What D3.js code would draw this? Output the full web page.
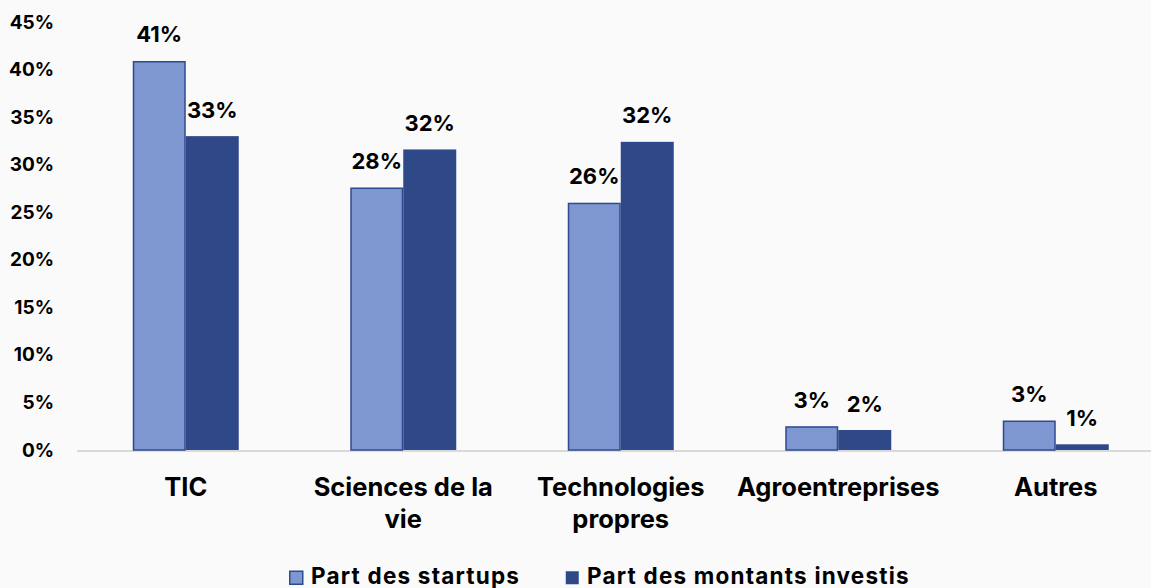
<!DOCTYPE html>
<html><head><meta charset="utf-8">
<script src="https://cdn.jsdelivr.net/npm/d3@7"></script>
<style>
html,body{margin:0;padding:0;background:#fafafa;}
svg{display:block;font-family:Inter,"Noto Sans",sans-serif;font-weight:700;}
</style></head><body>
<svg id="c" width="1151" height="588"></svg>
<script>
const categories = ["TIC", "Sciences de la vie", "Technologies propres", "Agroentreprises", "Autres"];
const seriesNames = ["Part des startups", "Part des montants investis"];
const startups = [0.409, 0.276, 0.260, 0.025, 0.031];
const montants = [0.330, 0.316, 0.324, 0.021, 0.006];
const yTicks = [0, 0.05, 0.10, 0.15, 0.20, 0.25, 0.30, 0.35, 0.40, 0.45];
const colors = ["#7f97d1", "#2f4887"];

const svg = d3.select("#c");
const x0 = d3.scaleBand().domain(categories).range([77, 1164.5]).paddingInner(0).paddingOuter(0);
const x1 = d3.scaleBand().domain([0,1]).range([x0.bandwidth()/2 - 53, x0.bandwidth()/2 + 53]);
const y = d3.scaleLinear().domain([0, 0.45]).range([450, 22]);

// baseline
svg.append("line").attr("x1", 77).attr("x2", 1151).attr("y1", y(0)+1).attr("y2", y(0)+1)
  .attr("stroke", "#d9d9d9").attr("stroke-width", 2);

// y axis
const yAxis = d3.axisLeft(y).tickValues(yTicks).tickFormat(d3.format(".0%")).tickSize(0).tickPadding(0);
const yg = svg.append("g").attr("transform", "translate(54,0)").call(yAxis);
yg.select(".domain").remove();
yg.selectAll("text").attr("font-family", "Inter, sans-serif").attr("font-weight", 700)
  .attr("font-size", 19).attr("fill", "#000");

const data = categories.map((c, i) => ({c, vals: [startups[i], montants[i]]}));
const g = svg.selectAll("g.cat").data(data).join("g").attr("class", "cat")
  .attr("transform", d => `translate(${x0(d.c)},0)`);

g.selectAll("rect").data(d => d.vals.map((v, k) => ({v, k}))).join("rect")
  .attr("x", d => x1(d.k) + (d.k === 0 ? 0.75 : 0))
  .attr("width", d => x1.bandwidth() - (d.k === 0 ? 1.5 : 0))
  .attr("y", d => y(d.v) + (d.k === 0 ? 0.75 : 0))
  .attr("height", d => y(0) - y(d.v) - (d.k === 0 ? 0.75 : 0))
  .attr("fill", d => colors[d.k])
  .attr("stroke", d => d.k === 0 ? "#2f4a8f" : "none")
  .attr("stroke-width", 1.5);

g.selectAll("text.lbl").data(d => d.vals.map((v, k) => ({v, k}))).join("text")
  .attr("class", "lbl")
  .attr("x", d => x1(d.k) + x1.bandwidth()/2)
  .attr("y", d => y(d.v) - 18.5)
  .attr("text-anchor", "middle")
  .attr("font-size", 22).attr("fill", "#000")
  .text(d => d3.format(".0%")(d.v));

// category labels with wrapping
const xg = svg.append("g");
categories.forEach(c => {
  const cx = x0(c) + x0.bandwidth()/2;
  const t = xg.append("text").attr("x", cx).attr("y", 495.5).attr("text-anchor", "middle")
    .attr("font-size", 25.5).attr("fill", "#000");
  const words = c.split(" ");
  let line = [];
  let tspan = t.append("tspan").attr("x", cx).attr("dy", 0);
  words.forEach(w => {
    line.push(w);
    tspan.text(line.join(" "));
    if (tspan.node().getComputedTextLength() > 200 && line.length > 1) {
      line.pop();
      tspan.text(line.join(" "));
      line = [w];
      tspan = t.append("tspan").attr("x", cx).attr("dy", 32.7).text(w);
    }
  });
});

// legend
const leg = svg.append("g");
const legX = [289, 565];
seriesNames.forEach((n, k) => {
  leg.append("rect").attr("x", legX[k] + 0.75).attr("y", 571.25).attr("width", 13).attr("height", 13)
    .attr("fill", colors[k]).attr("stroke", k === 0 ? "#2f4a8f" : "none").attr("stroke-width", 1.5);
  leg.append("text").attr("x", legX[k] + 22).attr("y", 584).attr("font-size", 22.5)
    .attr("letter-spacing", 1.2).attr("fill", "#000").text(n);
});
</script>
</body></html>
